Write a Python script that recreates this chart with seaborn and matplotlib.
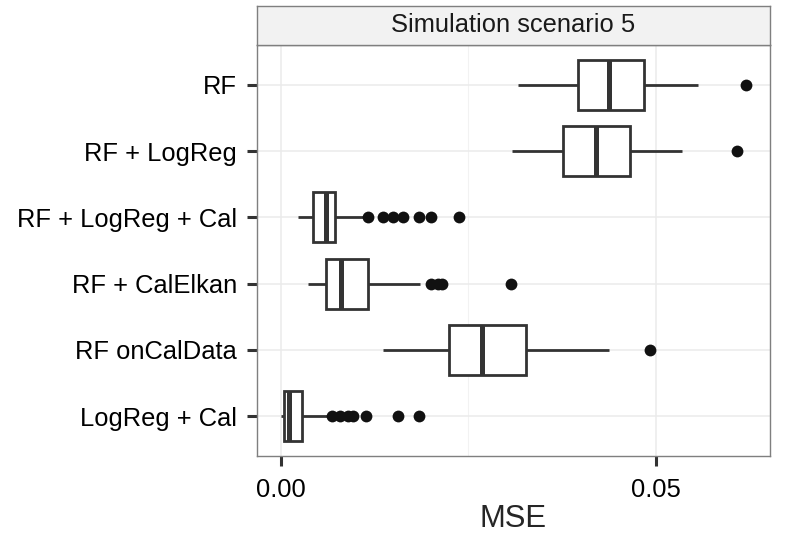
import pandas as pd
import matplotlib
matplotlib.use('Agg')
import matplotlib.pyplot as plt
from matplotlib.ticker import FixedLocator
import seaborn as sns

# --- values (box summary per method) ---
methods = ['RF', 'RF + LogReg', 'RF + LogReg + Cal', 'RF + CalElkan',
           'RF onCalData', 'LogReg + Cal']
whisker_low = [0.0316, 0.0309, 0.0023, 0.0037, 0.0137, 0.0000]
q1 = [0.0396, 0.0377, 0.0043, 0.0061, 0.0224, 0.0004]
median = [0.0438, 0.0421, 0.0061, 0.0080, 0.0269, 0.0011]
q3 = [0.0485, 0.0466, 0.0072, 0.0116, 0.0327, 0.0029]
whisker_high = [0.0556, 0.0535, 0.0110, 0.0186, 0.0438, 0.0064]
outliers = [
    [0.0621],
    [0.0608],
    [0.0117, 0.0136, 0.0150, 0.0163, 0.0184, 0.0201, 0.0238],
    [0.0201, 0.0210, 0.0215, 0.0307],
    [0.0493],
    [0.0069, 0.0079, 0.0090, 0.0097, 0.0114, 0.0157, 0.0185],
]
x_ticks = [0.00, 0.05]
x_tick_labels = ['0.00', '0.05']

# Expand each five-number summary into values whose quartiles reproduce it
rows = []
for i, m in enumerate(methods):
    vals = [whisker_low[i]] + [q1[i]] * 30 + [median[i]] * 30 + [q3[i]] * 30 + [whisker_high[i]]
    rows += [(m, v) for v in vals]
box_df = pd.DataFrame(rows, columns=['method', 'MSE'])

out_df = pd.DataFrame([(m, v) for m, vs in zip(methods, outliers) for v in vs],
                      columns=['method', 'MSE'])

sns.set_style('white')
plt.rcParams['font.family'] = ['Liberation Sans', 'DejaVu Sans']

W, H = 793, 534
fig = plt.figure(figsize=(W / 100, H / 100), dpi=100)
left, right, bottom, top = 257, 770, 456, 45
ax = fig.add_axes([left / W, (H - bottom) / H, (right - left) / W, (bottom - top) / H])

sns.boxplot(data=box_df, x='MSE', y='method', order=methods, orient='h',
            whis=(0, 100), showfliers=False, showcaps=False, width=0.75,
            color='white', linecolor='#333333', linewidth=2.0,
            medianprops={'linewidth': 3.6, 'color': '#333333'}, ax=ax)
sns.stripplot(data=out_df, x='MSE', y='method', order=methods, orient='h',
              jitter=False, color='#111111', size=8.5, linewidth=0, ax=ax)

ax.set_xlim(-0.00316, 0.06524)
ax.set_ylim(5.6, -0.6)
ax.set_xticks(x_ticks)
ax.set_xticklabels(x_tick_labels)
ax.xaxis.set_minor_locator(FixedLocator([0.025]))
ax.set_axisbelow(True)
ax.grid(True, which='major', color='#ebebeb', linewidth=1.1)
ax.grid(True, which='minor', axis='x', color='#f2f2f2', linewidth=0.8)
ax.tick_params(which='major', bottom=True, left=True, length=7.5, width=2.2,
               color='#333333', labelsize=18.4, labelcolor='black')
ax.tick_params(axis='x', pad=8)
ax.tick_params(axis='y', pad=7)
ax.tick_params(which='minor', length=0)
ax.set_xlabel('MSE', fontsize=22.4, labelpad=2)
ax.set_ylabel('')
for s in ax.spines.values():
    s.set_visible(True)
    s.set_color('#7f7f7f')
    s.set_linewidth(1)

# facet strip
strip_top = 6
sax = fig.add_axes([left / W, (H - top) / H, (right - left) / W, (top - strip_top) / H])
sax.set_facecolor('#f2f2f2')
sax.set_xticks([])
sax.set_yticks([])
for s in sax.spines.values():
    s.set_visible(True)
    s.set_color('#7f7f7f')
    s.set_linewidth(1)
sax.text(0.5, 0.5, 'Simulation scenario 5', ha='center', va='center',
         fontsize=18.4, color='#1a1a1a', transform=sax.transAxes)

fig.savefig('out.png', dpi=100)
